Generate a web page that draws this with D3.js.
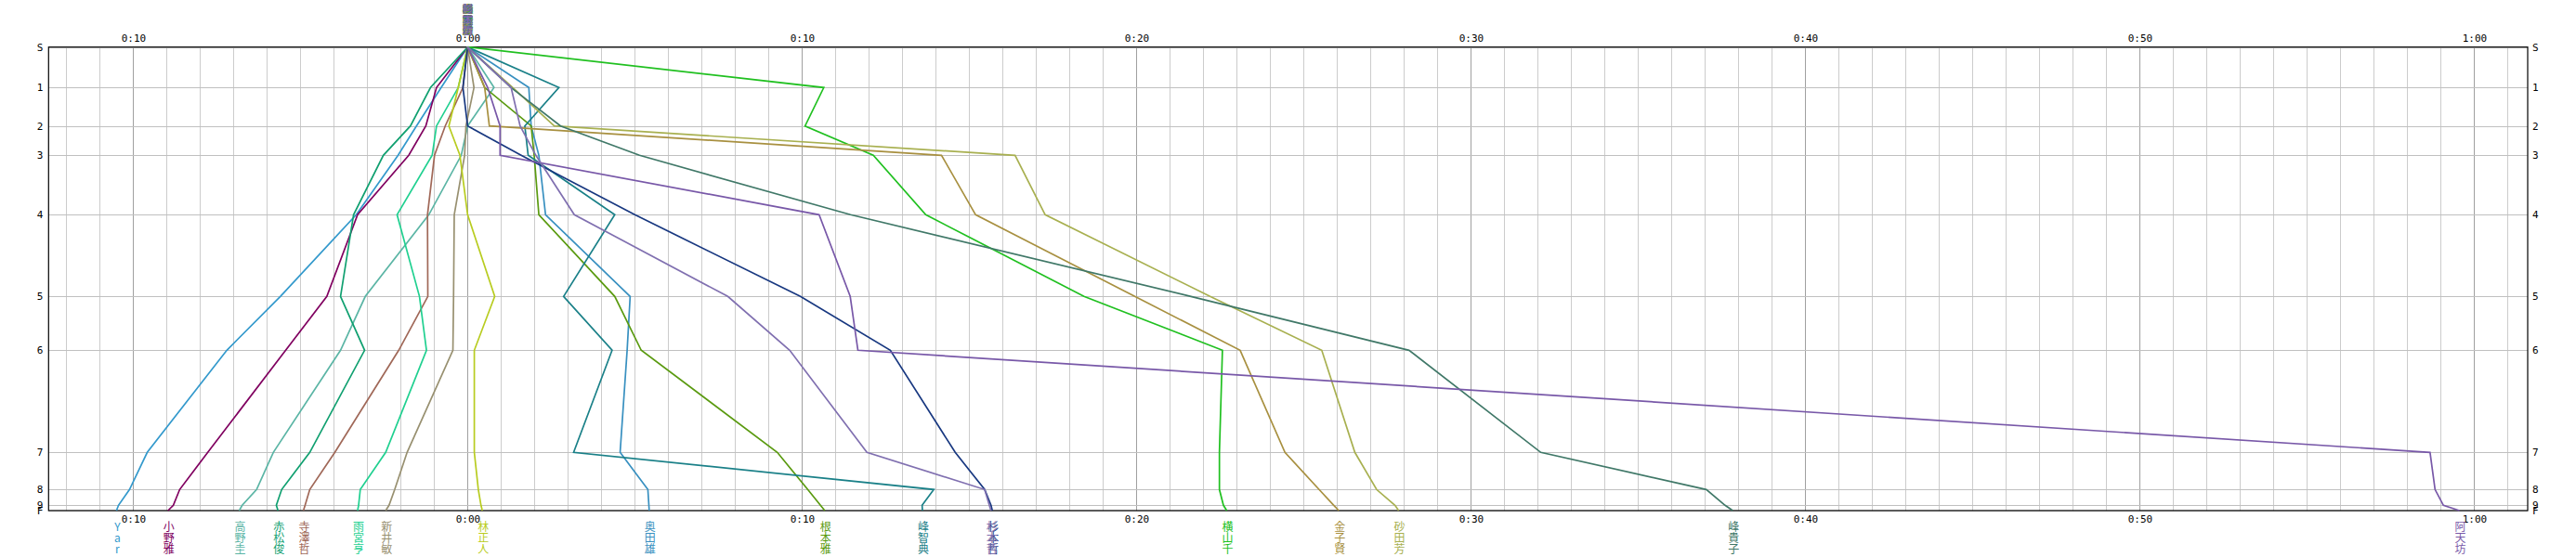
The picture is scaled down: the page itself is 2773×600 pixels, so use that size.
<!DOCTYPE html>
<html><head><meta charset="utf-8">
<script src="https://cdn.jsdelivr.net/npm/d3@7"></script>
<style>body{margin:0;background:#fff}svg{display:block}</style>
</head><body><svg id="c" width="2773" height="600"></svg>
<script>
// ---- data ----
const controls = ["S","1","2","3","4","5","6","7","8","9","F"];
const controlDist = [0, 43.6, 85, 116.6, 180.6, 268.6, 326.6, 436.6, 476.6, 493.6, 499.3];
const timeTicks = [-10, 0, 10, 20, 30, 40, 50, 60];
const tickLabels = ["0:10","0:00","0:10","0:20","0:30","0:40","0:50","1:00"];

const names  = ["Yar","小野雅","高野圭","赤松俊","寺澤哲","雨宮亨","新井敏","林正人","奥田雄","根本雅","峰智典","杉本哲","横山千","金子賢","砂田芳","峰貴子","阿天坊","杉本哲"];
const colors = ["#3399cc","#800060","#5bb5a5","#10a070","#a06858","#20d090","#989070","#b8cc20","#3890c0","#5a9a10","#1a8088","#183880","#20c020","#a89040","#a8b050","#407868","#7858a8","#8070b0"];

const gapYar  = [0, -0.79, -1.53, -2.08, -3.33, -5.60, -7.20, -9.58, -10.11, -10.44, -10.50];
const gapOno  = [0, -0.93, -1.25, -1.76, -3.29, -4.21, -5.44, -7.77, -8.61, -8.80, -8.96];
const gapTaka = [0, 0.79, 0.0, -0.19, -1.16, -3.06, -3.80, -5.81, -6.31, -6.74, -6.83];
const gapAka  = [0, -1.11, -1.71, -2.52, -3.41, -3.80, -3.08, -4.72, -5.56, -5.72, -5.67];
const gapTera = [0, -0.14, -0.67, -0.99, -1.20, -1.19, -2.06, -3.97, -4.72, -4.86, -4.91];
const gapAme  = [0, -0.28, -0.93, -1.06, -2.11, -1.44, -1.23, -2.45, -3.21, -3.26, -3.29];
const gapArai = [0, 0.19, -0.05, -0.09, -0.40, -0.42, -0.44, -1.81, -2.18, -2.35, -2.45];
const gapHay  = [0, -0.28, -0.56, -0.23, 0.0, 0.81, 0.20, 0.20, 0.32, 0.40, 0.44];
const gapOku  = [0, 1.83, 1.90, 2.13, 2.33, 4.86, 4.77, 4.56, 5.39, 5.42, 5.43];
const gapNemo = [0, 0.51, 1.90, 1.99, 2.13, 4.40, 5.19, 9.26, 10.17, 10.55, 10.68];
const gapMineT= [0, 2.73, 1.71, 1.81, 4.40, 2.87, 4.32, 3.17, 13.94, 13.59, 13.60];
const gapSugi = [0, -0.14, 0.0, 1.60, 5.00, 9.95, 12.64, 14.58, 15.46, 15.65, 15.69];
const gapYoko = [0, 10.65, 10.09, 12.13, 13.70, 18.43, 22.57, 22.48, 22.48, 22.60, 22.70];
const gapKane = [0, 0.51, 0.65, 14.17, 15.19, 19.95, 23.10, 24.44, 25.46, 25.90, 26.05];
const gapSuna = [0, 1.35, 2.59, 16.37, 17.27, 22.20, 25.54, 26.53, 27.18, 27.73, 27.84];
const gapMineK= [0, 1.30, 2.78, 5.14, 11.45, 21.63, 28.15, 32.09, 37.04, 37.60, 37.83];
const gapAten = [0, 0.60, 0.97, 0.97, 10.51, 11.44, 11.67, 58.68, 58.83, 59.08, 59.56];
const gapPurp = [0, 1.30, 1.57, 2.04, 3.19, 7.78, 9.63, 11.94, 15.46, 15.60, 15.65];

const gaps = [gapYar,gapOno,gapTaka,gapAka,gapTera,gapAme,gapArai,gapHay,gapOku,gapNemo,gapMineT,gapSugi,gapYoko,gapKane,gapSuna,gapMineK,gapAten,gapPurp];

// ---- drawing ----
const svg = d3.select("#c");
const L = 52.3, R = 2721, T = 50.7, B = 550;
const x = d3.scaleLinear().domain([-12.53, 61.6]).range([L, R]);
const y = d3.scaleLinear().domain([0, 499.3]).range([T, B]);

svg.append("rect").attr("width",2773).attr("height",600).attr("fill","#fff");

// vertical minute grid
const minutes = d3.range(-12, 62);
svg.append("g").selectAll("line").data(minutes).join("line")
  .attr("x1", d => Math.round(x(d)) + 0.5).attr("x2", d => Math.round(x(d)) + 0.5)
  .attr("y1", T).attr("y2", B)
  .attr("stroke", d => d % 10 === 0 ? "#a0a0a0" : "#cccccc").attr("stroke-width", 1);

// horizontal control grid
svg.append("g").selectAll("line").data(controlDist).join("line")
  .attr("x1", L).attr("x2", R)
  .attr("y1", d => Math.round(y(d)) + 0.5).attr("y2", d => Math.round(y(d)) + 0.5)
  .attr("stroke", "#c0c0c0").attr("stroke-width", 1);

// frame
svg.append("rect").attr("x", L).attr("y", T).attr("width", R - L).attr("height", B - T)
  .attr("fill", "none").attr("stroke", "#000").attr("stroke-width", 1.2);

// time axes (top & bottom)
const tickFont = "'DejaVu Sans Mono', monospace";
const tl = d3.scaleOrdinal().domain(timeTicks).range(tickLabels);
const topAxis = d3.axisTop(x).tickValues(timeTicks).tickSize(0).tickFormat(d => tl(d));
const botAxis = d3.axisBottom(x).tickValues(timeTicks).tickSize(0).tickFormat(d => tl(d));
svg.append("g").attr("transform", `translate(0,${T-3})`).call(topAxis)
  .call(g => g.select(".domain").remove())
  .selectAll("text").attr("font-family", tickFont).attr("font-size", 11).attr("fill", "#000");
svg.append("g").attr("transform", `translate(0,${B+2})`).call(botAxis)
  .call(g => g.select(".domain").remove())
  .selectAll("text").attr("font-family", tickFont).attr("font-size", 11).attr("fill", "#000");

// control axes (left & right)
const cl = d3.scaleOrdinal().domain(controlDist).range(controls);
const leftAxis = d3.axisLeft(y).tickValues(controlDist).tickSize(0).tickFormat(d => cl(d));
const rightAxis = d3.axisRight(y).tickValues(controlDist).tickSize(0).tickFormat(d => cl(d));
svg.append("g").attr("transform", `translate(${L-3},0)`).call(leftAxis)
  .call(g => g.select(".domain").remove())
  .selectAll("text").attr("font-family", tickFont).attr("font-size", 11).attr("fill", "#000");
svg.append("g").attr("transform", `translate(${R+2},0)`).call(rightAxis)
  .call(g => g.select(".domain").remove())
  .selectAll("text").attr("font-family", tickFont).attr("font-size", 11).attr("fill", "#000");

// runner lines
const line = d3.line().x(d => x(d.g)).y(d => y(d.c));
const series = names.map((n, i) => ({
  name: n, color: colors[i],
  pts: gaps[i].map((g, k) => ({ g: g, c: controlDist[k] }))
}));
svg.append("g").selectAll("path").data(series).join("path")
  .attr("d", d => line(d.pts))
  .attr("fill", "none").attr("stroke", d => d.color).attr("stroke-width", 1.7)
  .attr("stroke-linejoin", "miter");

// names at the start (stacked over 0:00) and at the finish
const nameFont = "'Noto Sans CJK JP', sans-serif";
series.forEach(s => {
  const chars = Array.from(s.name);
  const gStart = svg.append("g");
  chars.forEach((ch, k) => {
    gStart.append("text").attr("x", x(s.pts[0].g)).attr("y", 14 + k * 11.5)
      .attr("text-anchor", "middle").attr("font-family", nameFont).attr("font-size", 11.5)
      .attr("fill", s.color).text(ch);
    svg.append("text").attr("x", x(s.pts[s.pts.length - 1].g) + 1).attr("y", 572 + k * 12)
      .attr("text-anchor", "middle").attr("font-family", nameFont).attr("font-size", 12)
      .attr("fill", s.color).text(ch);
  });
});
</script></body></html>
